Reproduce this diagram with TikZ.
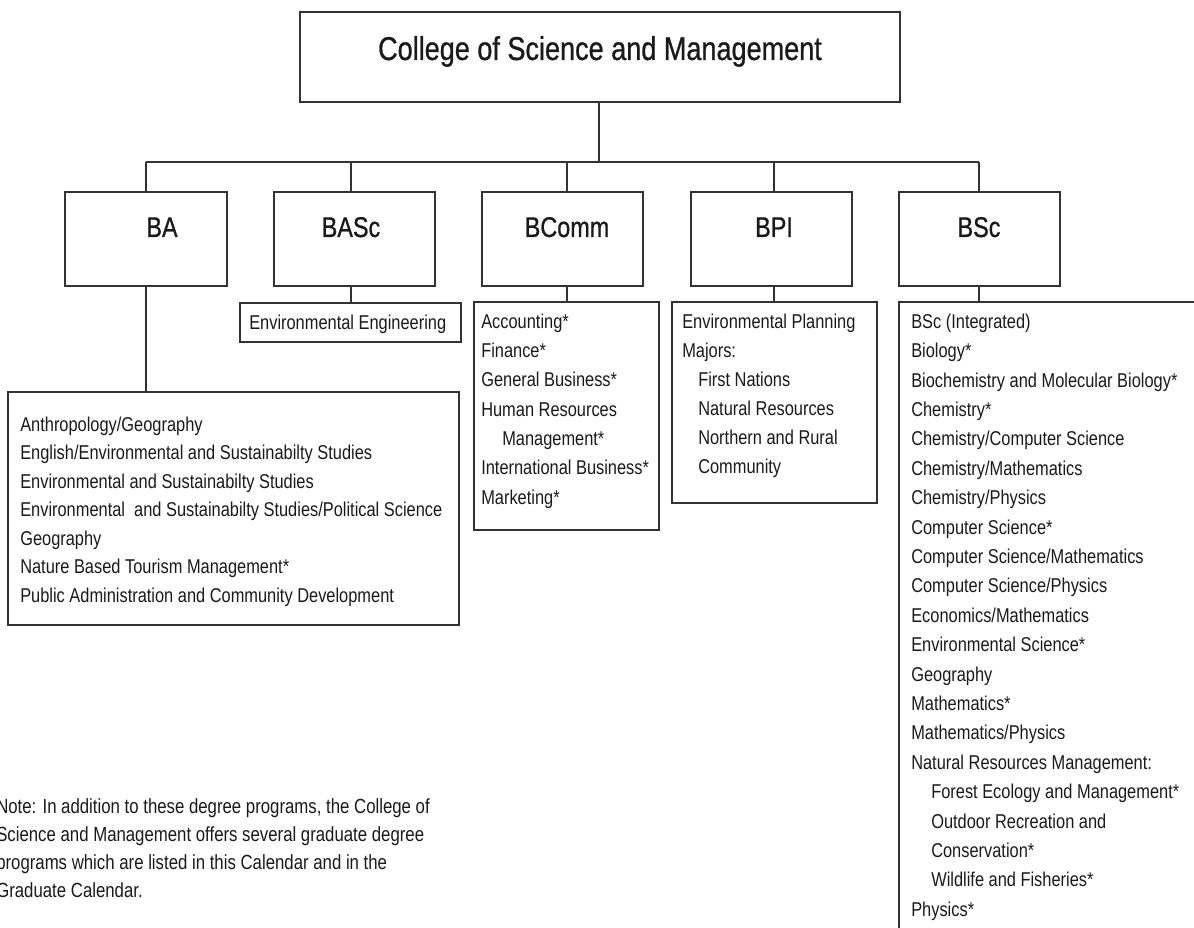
\documentclass[tikz,border=0pt]{standalone}
\usepackage{fontspec}
\setmainfont{Liberation Sans}[FakeStretch=0.82]
\newfontfamily\headfam{Liberation Sans}[FakeStretch=0.82,FakeBold=0.8]
\usetikzlibrary{fit}
\definecolor{linegray}{HTML}{333333}
\definecolor{textgray}{HTML}{1A1A1A}
\newcommand{\titlefnt}{\headfam\fontsize{24.75pt}{30pt}\selectfont}
\newcommand{\degfnt}{\headfam\fontsize{21.4pt}{26pt}\selectfont}
\newcommand{\lstA}{\fontsize{15pt}{21.375pt}\selectfont}
\newcommand{\lstB}{\fontsize{15pt}{22pt}\selectfont}
\newcommand{\lstP}{\fontsize{15pt}{21.75pt}\selectfont}
\newcommand{\lstC}{\fontsize{15pt}{22.05pt}\selectfont}
\newcommand{\lstN}{\fontsize{15.35pt}{21pt}\selectfont}
\begin{document}
\begin{tikzpicture}[x=0.75pt,y=-0.75pt,
  box/.style={draw=linegray, line width=1pt, inner sep=0pt},
  conn/.style={draw=linegray, line width=1pt},
  deglbl/.style={anchor=base, inner sep=0pt, text=textgray, font=\degfnt},
  listtxt/.style={anchor=north west, inner sep=0pt, align=left, text=textgray}]
\useasboundingbox (0,0) rectangle (1194,927);

% title
\node[box, fit={(300,12)(900,102)}] (title) {};
\node[anchor=base, inner sep=0pt, text=textgray, font=\titlefnt] (titletxt) at (600,60) {College of Science and Management};

% degree boxes
\node[box, fit={(65,192)(227,286)}] (ba) {};
\node[box, fit={(274,192)(435,286)}] (basc) {};
\node[box, fit={(482,192)(643,286)}] (bcomm) {};
\node[box, fit={(691,192)(852,286)}] (bpi) {};
\node[box, fit={(899,192)(1060,286)}] (bsc) {};
\node[deglbl] (balbl) at (162,237) {BA};
\node[deglbl] (basclbl) at (351,237) {BASc};
\node[deglbl] (bcommlbl) at (567,237) {BComm};
\node[deglbl] (bpilbl) at (774,237) {BPI};
\node[deglbl] (bsclbl) at (979,237) {BSc};

% list boxes
\node[box, fit={(8,392)(459,625)}] (bal) {};
\node[box, fit={(240,303)(461,342)}] (bascl) {};
\node[box, fit={(474,302)(659,530)}] (bcomml) {};
\node[box, fit={(672,302)(877,503)}] (bpil) {};
\node[box, fit={(899,302)(1240,980)}] (bscl) {};

% connectors
\coordinate (hub) at (599,162);
\coordinate (tA) at (146,162);
\coordinate (tB) at (351,162);
\coordinate (tC) at (567,162);
\coordinate (tD) at (774,162);
\coordinate (tE) at (979,162);
\draw[conn] (title.south -| hub) -- (hub);
\draw[conn] (tA) -- (tE);
\draw[conn] (tA) -- (tA |- ba.north);
\draw[conn] (tB) -- (tB |- basc.north);
\draw[conn] (tC) -- (tC |- bcomm.north);
\draw[conn] (tD) -- (tD |- bpi.north);
\draw[conn] (tE) -- (tE |- bsc.north);
\draw[conn] (tA |- ba.south) -- (tA |- bal.north);
\draw[conn] (tB |- basc.south) -- (tB |- bascl.north);
\draw[conn] (tC |- bcomm.south) -- (tC |- bcomml.north);
\draw[conn] (tD |- bpi.south) -- (tD |- bpil.north);
\draw[conn] (tE |- bsc.south) -- (tE |- bscl.north);

% list texts
\node[listtxt, font=\lstA] (batxt) at (20,411) {\strut Anthropology/Geography\\
\strut English/Environmental and Sustainabilty Studies\\
\strut Environmental and Sustainabilty Studies\\
\strut Environmental\ \ and Sustainabilty Studies/Political Science\\
\strut Geography\\
\strut Nature Based Tourism Management*\\
\strut Public Administration and Community Development};

\node[listtxt, font=\lstA] (basctxt) at (249,309) {\strut Environmental Engineering};

\node[listtxt, font=\lstB] (bcommtxt) at (481,307.5) {\strut Accounting*\\
\strut Finance*\\
\strut General Business*\\
\strut Human Resources\\
\strut\hspace*{15.75pt}Management*\\
\strut International Business*\\
\strut Marketing*};

\node[listtxt, font=\lstP] (bpitxt) at (682,307.7) {\strut Environmental Planning\\
\strut Majors:\\
\strut\hspace*{12pt}First Nations\\
\strut\hspace*{12pt}Natural Resources\\
\strut\hspace*{12pt}Northern and Rural\\
\strut\hspace*{12pt}Community};

\node[listtxt, font=\lstC] (bsctxt) at (911,307.4) {\strut BSc (Integrated)\\
\strut Biology*\\
\strut Biochemistry and Molecular Biology*\\
\strut Chemistry*\\
\strut Chemistry/Computer Science\\
\strut Chemistry/Mathematics\\
\strut Chemistry/Physics\\
\strut Computer Science*\\
\strut Computer Science/Mathematics\\
\strut Computer Science/Physics\\
\strut Economics/Mathematics\\
\strut Environmental Science*\\
\strut Geography\\
\strut Mathematics*\\
\strut Mathematics/Physics\\
\strut Natural Resources Management:\\
\strut\hspace*{15pt}Forest Ecology and Management*\\
\strut\hspace*{15pt}Outdoor Recreation and\\
\strut\hspace*{15pt}Conservation*\\
\strut\hspace*{15pt}Wildlife and Fisheries*\\
\strut Physics*};

% note
\node[listtxt, font=\lstN] (note) at (-4,793.4) {\strut Note: In addition to these degree programs, the College of\\
\strut Science and Management offers several graduate degree\\
\strut programs which are listed in this Calendar and in the\\
\strut Graduate Calendar.};
\end{tikzpicture}
\end{document}
